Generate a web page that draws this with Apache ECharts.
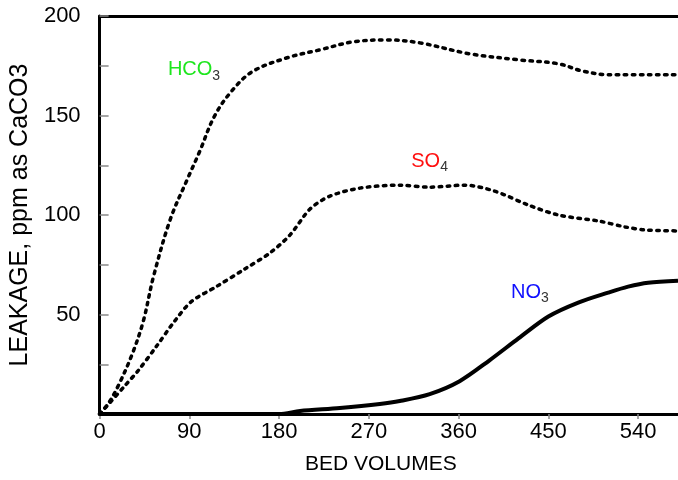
<!DOCTYPE html>
<html>
<head>
<meta charset="utf-8">
<script src="https://cdn.jsdelivr.net/npm/echarts@6/dist/echarts.min.js"></script>
<style>
  html, body { margin: 0; padding: 0; background: #fff; }
  #chart { width: 678px; height: 480px; }
</style>
</head>
<body>
<div id="chart"></div>
<script>
// bed volumes vs leakage (ppm as CaCO3)
const hco3 = [
  [0, 0], [9, 5.5], [19, 14.5], [33, 30.5], [44, 47], [54, 69], [71, 98],
  [88, 118], [100, 131.5], [115, 149.5], [132, 162], [153, 172],
  [188, 179], [221, 183], [254, 187], [288, 188], [321, 186.5],
  [371, 181], [420, 178], [460, 176], [483, 172.5], [510, 170.5], [580, 170.5]
];
const so4 = [
  [0, 0], [10, 5.5], [25, 14], [39, 22], [57, 34], [75, 46.5], [92, 56.5],
  [117, 64], [146, 73], [171, 81], [191, 90], [211, 103], [231, 109.5],
  [261, 113.5], [301, 115], [331, 114], [366, 115], [396, 112],
  [430, 105], [460, 100], [500, 97], [527, 94], [547, 92.5], [580, 92]
];
const no3 = [
  [0, 0], [90, 0], [180, 0], [201, 1.5], [241, 3], [281, 5], [301, 6.5],
  [331, 10], [361, 16.5], [391, 27], [420, 38], [450, 49], [480, 56],
  [510, 61], [530, 64], [550, 66], [580, 67]
];
// label anchors [x, y] in data units
const ionNames = ['HCO', 'SO', 'NO'];
const ionSubs = ['3', '4', '3'];
const ionColors = ['#1ee61e', '#ff1010', '#1010ff'];
const ionAt = [[68, 173], [312, 127], [412, 61]];

const font = 'Arial, "Liberation Sans", Helvetica, sans-serif';
const chart = echarts.init(document.getElementById('chart'));

const labelData = ionNames.map((n, i) => ({
  value: ionAt[i],
  label: {
    show: true,
    position: 'right',
    distance: 0,
    formatter: '{a|' + n + '}{b|' + ionSubs[i] + '}',
    rich: {
      a: { color: ionColors[i], fontSize: 20, fontFamily: font },
      b: { color: '#333', fontSize: 14, fontFamily: font, padding: [12, 0, 0, 0] }
    }
  }
}));

const dotted = { color: '#000', width: 3.5, type: [2.5, 5.5], cap: 'round' };

chart.setOption({
  animation: false,
  grid: { left: 98, top: 16, right: -2, bottom: 64 },
  xAxis: [{
    type: 'value',
    min: 0,
    max: 580,
    interval: 90,
    name: 'BED VOLUMES',
    nameLocation: 'middle',
    nameGap: 40,
    nameTextStyle: { fontSize: 21, color: '#000', fontFamily: font, padding: [0, 16, 0, 0] },
    axisLine: { lineStyle: { color: '#000', width: 3 } },
    axisTick: { show: true, length: 5, lineStyle: { color: '#888', width: 1.5 } },
    axisLabel: {
      fontSize: 22, color: '#000', fontFamily: font, margin: 7,
      showMaxLabel: false,
      formatter: v => (v % 90 === 0 ? String(v) : '')
    },
    splitLine: { show: false }
  }, {
    type: 'value',
    position: 'top',
    min: 0,
    max: 580,
    axisLine: { show: true, lineStyle: { color: '#000', width: 3 } },
    axisTick: { show: false },
    axisLabel: { show: false },
    splitLine: { show: false }
  }],
  yAxis: {
    type: 'value',
    min: 0,
    max: 200,
    interval: 25,
    name: 'LEAKAGE, ppm as CaCO3',
    nameLocation: 'middle',
    nameGap: 62,
    nameTextStyle: { fontSize: 25, color: '#000', fontFamily: font },
    axisLine: { show: true, lineStyle: { color: '#000', width: 3 } },
    axisTick: { show: true, inside: true, length: 9, lineStyle: { color: '#888', width: 1.5 } },
    axisLabel: {
      fontSize: 22, color: '#000', fontFamily: font, margin: 19,
      formatter: v => (v > 0 && v % 50 === 0 ? String(v) : '')
    },
    splitLine: { show: false }
  },
  series: [
    { type: 'line', data: hco3, smooth: 0.35, symbol: 'none', lineStyle: dotted },
    { type: 'line', data: so4, smooth: 0.3, symbol: 'none', lineStyle: dotted },
    { type: 'line', data: no3, smooth: 0.3, symbol: 'none', lineStyle: { color: '#000', width: 4 } },
    {
      type: 'scatter', data: labelData, symbolSize: 1, silent: true,
      itemStyle: { color: 'rgba(0,0,0,0)', opacity: 1 }
    }
  ]
});
</script>
</body>
</html>
